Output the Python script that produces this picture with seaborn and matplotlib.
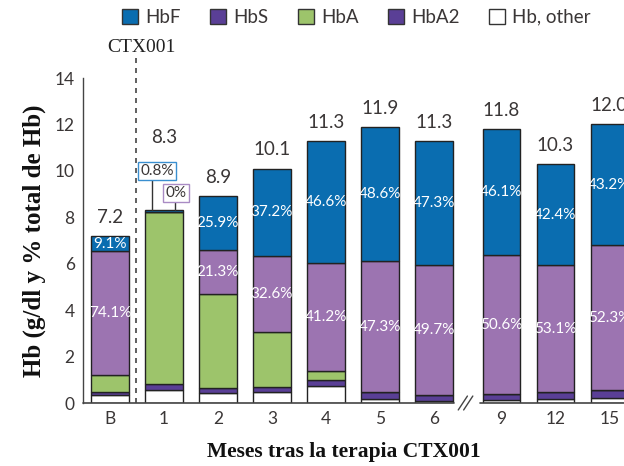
import numpy as np
import matplotlib
matplotlib.use("Agg")
import matplotlib.pyplot as plt
import seaborn as sns
from matplotlib.patches import Patch

# ── Data (g/dl per component) ─────────────────────────────────
months = ["B", "1", "2", "3", "4", "5", "6", "9", "12", "15"]
xpos = [0, 1, 2, 3, 4, 5, 6, 7.25, 8.25, 9.25]
totals = [7.2, 8.3, 8.9, 10.1, 11.3, 11.9, 11.3, 11.8, 10.3, 12.0]
hb_other = [0.34, 0.58, 0.45, 0.46, 0.73, 0.18, 0.08, 0.13, 0.17, 0.20]
hba2 = [0.15, 0.25, 0.18, 0.24, 0.26, 0.30, 0.26, 0.26, 0.29, 0.34]
hba = [0.70, 7.40, 4.07, 2.35, 0.39, 0.00, 0.00, 0.00, 0.00, 0.00]
hbs = [5.34, 0.00, 1.90, 3.29, 4.66, 5.63, 5.62, 5.97, 5.47, 6.28]
hbf = [0.66, 0.07, 2.30, 3.76, 5.26, 5.78, 5.34, 5.44, 4.37, 5.18]
hbf_pct = ["9.1%", "0.8%", "25.9%", "37.2%", "46.6%", "48.6%", "47.3%", "46.1%", "42.4%", "43.2%"]
hbs_pct = ["74.1%", "0%", "21.3%", "32.6%", "41.2%", "47.3%", "49.7%", "50.6%", "53.1%", "52.3%"]

C_HBF = "#0a6db0"
C_HBS = "#9c74b1"
C_HBA = "#9dc46b"
C_HBA2 = "#5a3f96"
C_OTHER = "#ffffff"
TXT = "#3a3636"

sns.set_style("white")
plt.rcParams["font.family"] = ["Lato", "DejaVu Sans"]

fig = plt.figure(figsize=(6.24, 4.66), dpi=100)
ax = fig.add_axes([83 / 624, 1 - 403 / 466, 1 - 83 / 624, (403 - 78) / 466])

layers = [(hb_other, C_OTHER), (hba2, C_HBA2), (hba, C_HBA), (hbs, C_HBS), (hbf, C_HBF)]
bottom = np.zeros(len(months))
for vals, col in layers:
    sns.barplot(x=xpos, y=vals, bottom=bottom, native_scale=True, width=0.7,
                color=col, edgecolor="#222222", linewidth=1.0, errorbar=None,
                saturation=1, ax=ax)
    bottom = bottom + np.array(vals)

# ── Labels on bars ────────────────────────────────────────────
base = np.array(hb_other) + np.array(hba2) + np.array(hba)
for i, x in enumerate(xpos):
    if i == 1:
        continue
    ax.text(x, base[i] + hbs[i] / 2, hbs_pct[i], ha="center", va="center",
            color="white", fontsize=11)
    ax.text(x, base[i] + hbs[i] + hbf[i] / 2, hbf_pct[i], ha="center", va="center",
            color="white", fontsize=11)

for i, x in enumerate(xpos):
    y = totals[i] + 0.8 if i != 1 else 11.45
    ax.text(x, y, f"{totals[i]:.1f}", ha="center", va="center", color=TXT, fontsize=13.5)

# month-1 callouts
ax.plot([0.78, 0.78], [totals[1], 9.7], color="#333333", lw=1)
ax.text(0.87, 10.0, hbf_pct[1], ha="center", va="center", color=TXT, fontsize=11,
        bbox=dict(boxstyle="square,pad=0.15", fc="white", ec="#3a8fd0", lw=1))
ax.plot([1.2, 1.2], [totals[1], 8.7], color="#333333", lw=1)
ax.text(1.22, 9.05, hbs_pct[1], ha="center", va="center", color=TXT, fontsize=11,
        bbox=dict(boxstyle="square,pad=0.15", fc="white", ec="#a98bc4", lw=1))

# dashed separator after baseline
ax.plot([0.48, 0.48], [0, 14.9], ls=(0, (3, 3)), color="#444444", lw=1.2, clip_on=False)
fig.text(141 / 624, 1 - 48 / 466, "CTX001", ha="center", va="center",
         family="Liberation Serif", fontsize=14, color="#222222")

# ── Axes styling ──────────────────────────────────────────────
ax.set_xlim(-0.5, 9.52)
ax.set_ylim(0, 14)
ax.set_yticks(range(0, 15, 2))
ax.set_xticks(xpos)
ax.set_xticklabels(months)
ax.tick_params(axis="y", length=5, width=1, color="#444444", labelcolor=TXT, labelsize=12.5, pad=1)
ax.tick_params(axis="x", length=0, labelcolor=TXT, labelsize=12.5, pad=6)
for s in ["top", "right", "bottom"]:
    ax.spines[s].set_visible(False)
ax.spines["left"].set_color("#444444")
ax.spines["left"].set_linewidth(1)

# broken bottom axis
ax.plot([-0.5, 6.37], [0, 0], color="#444444", lw=1.2, clip_on=False)
ax.plot([6.85, 9.52], [0, 0], color="#444444", lw=1.2, clip_on=False)
for dx in (0.0, 0.1):
    ax.plot([6.45 + dx, 6.62 + dx], [-0.3, 0.3], color="#444444", lw=1, clip_on=False)

ax.set_ylabel("Hb (g/dl y % total de Hb)", family="Liberation Serif", fontweight="bold",
              fontsize=18, color="#111111", labelpad=6)
ax.set_xlabel("Meses tras la terapia CTX001", family="Liberation Serif", fontweight="bold",
              fontsize=15.5, color="#111111")
ax.xaxis.set_label_coords(0.483, -0.12)

# ── Legend ────────────────────────────────────────────────────
handles = [Patch(facecolor=C_HBF, edgecolor="#333333", label="HbF"),
           Patch(facecolor=C_HBA2, edgecolor="#333333", label="HbS"),
           Patch(facecolor=C_HBA, edgecolor="#333333", label="HbA"),
           Patch(facecolor=C_HBA2, edgecolor="#333333", label="HbA2"),
           Patch(facecolor=C_OTHER, edgecolor="#333333", label="Hb, other")]
fig.legend(handles=handles, loc="center", bbox_to_anchor=(0.571, 0.963), ncol=5,
           frameon=False, fontsize=13.5, handlelength=0.85, handleheight=0.85,
           handletextpad=0.4, columnspacing=1.55, labelcolor=TXT)

plt.savefig("out.png", dpi=100)
plt.close()
